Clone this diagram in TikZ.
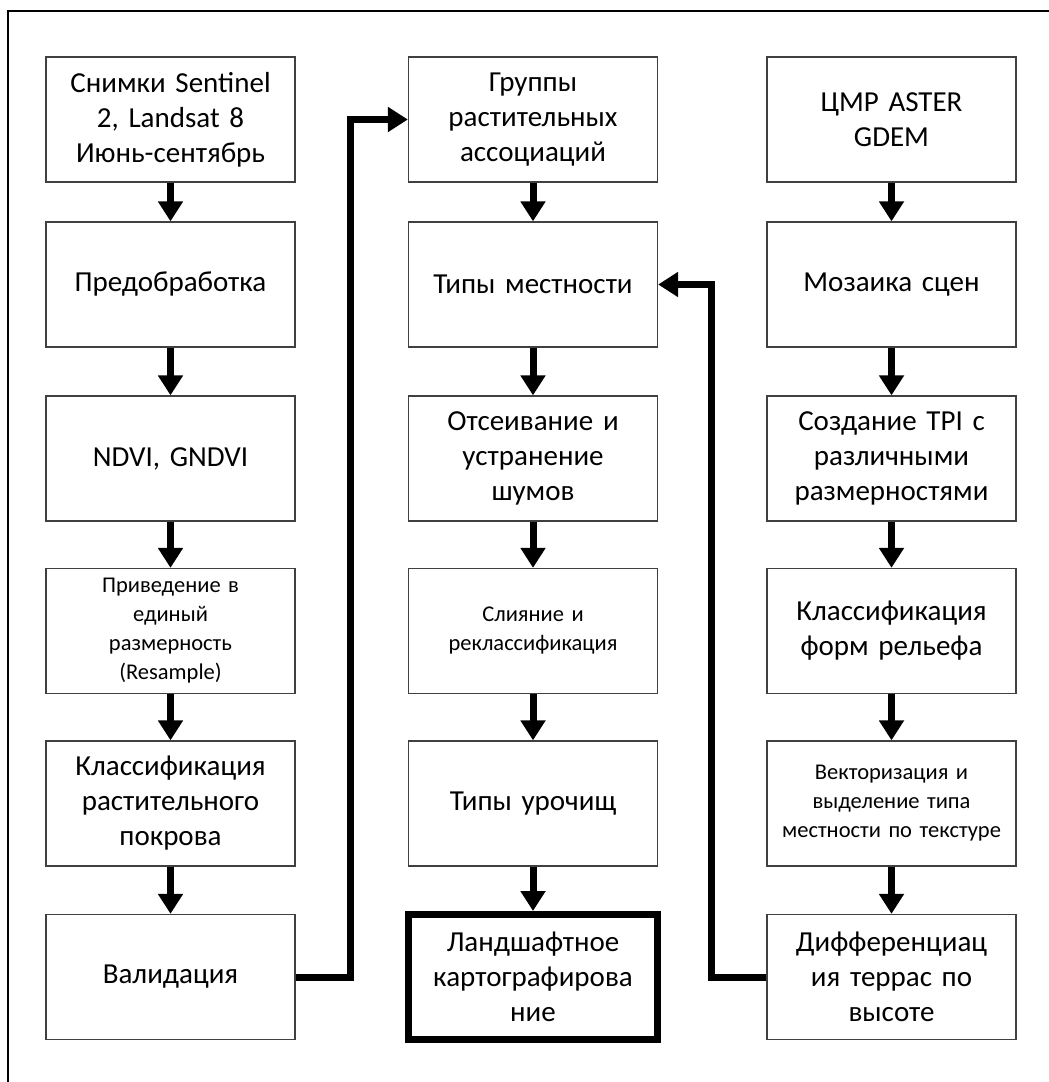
\documentclass[tikz,border=0pt]{standalone}
\usepackage{fontspec}
\setmainfont{Carlito}
\usetikzlibrary{arrows.meta}
\tikzset{
  box/.style={draw=black!75, line width=1.3pt, minimum width=249pt, minimum height=125pt,
    inner sep=0pt, text width=245pt, align=center, font=\fontsize{29}{35}\selectfont},
  smallbox/.style={box, font=\fontsize{22.5}{29}\selectfont},
  finalbox/.style={box, draw=black, line width=7pt},
  conn/.style={line width=7pt, line join=miter, -{Triangle[width=24pt,length=20pt]}}
}
\begin{document}
\begin{tikzpicture}[x=1pt,y=-1pt]
      \useasboundingbox (0,0) rectangle (1049,1082);
      \draw[line width=1.3pt] (8,1100) -- (8,11) -- (1070,11);
      % left column
      \node[box] (img) at (170.5,119.5) {Снимки Sentinel\\2, Landsat 8\\Июнь-сентябрь};
      \node[box] (pre) at (170.5,284.5) {Предобработка};
      \node[box] (ndvi) at (170.5,458.5) {NDVI, GNDVI};
      \node[smallbox] (res) at (170.5,631) {Приведение в\\единый\\размерность\\(Resample)};
      \node[box] (cls) at (170.5,803.5) {Классификация\\растительного\\покрова};
      \node[box] (val) at (170.5,977) {Валидация};
      % middle column
      \node[box] (grp) at (533,119.5) {Группы\\растительных\\ассоциаций};
      \node[box] (tm) at (533,284.5) {Типы местности};
      \node[box] (ots) at (533,458.5) {Отсеивание и\\устранение\\шумов};
      \node[smallbox] (sli) at (533,631) {Слияние и\\реклассификация};
      \node[box] (tu) at (533,803.5) {Типы урочищ};
      \node[finalbox] (land) at (533,977) {Ландшафтное\\картографирова\\ние};
      % right column
      \node[box] (dem) at (891.5,119.5) {ЦМР ASTER\\GDEM};
      \node[box] (mos) at (891.5,284.5) {Мозаика сцен};
      \node[box] (tpi) at (891.5,458.5) {Создание TPI с\\различными\\размерностями};
      \node[box] (rel) at (891.5,631) {Классификация\\форм рельефа};
      \node[smallbox] (vec) at (891.5,803.5) {Векторизация и\\выделение типа\\местности по текстуре};
      \node[box] (dif) at (891.5,977) {Дифференциац\\ия террас по\\высоте};
      \begin{scope}[conn]
        \draw (img) to (pre);
        \draw (pre) to (ndvi);
        \draw (ndvi) to (res);
        \draw (res) to (cls);
        \draw (cls) to (val);
        \draw (grp) to (tm);
        \draw (tm) to (ots);
        \draw (ots) to (sli);
        \draw (sli) to (tu);
        \draw (tu) to (land);
        \draw (dem) to (mos);
        \draw (mos) to (tpi);
        \draw (tpi) to (rel);
        \draw (rel) to (vec);
        \draw (vec) to (dif);
        \draw (val.east) -- ++(55,0) |- (grp.west);
        \draw (dif.west) -- ++(-55,0) |- (tm.east);
      \end{scope}
    \end{tikzpicture}
\end{document}
